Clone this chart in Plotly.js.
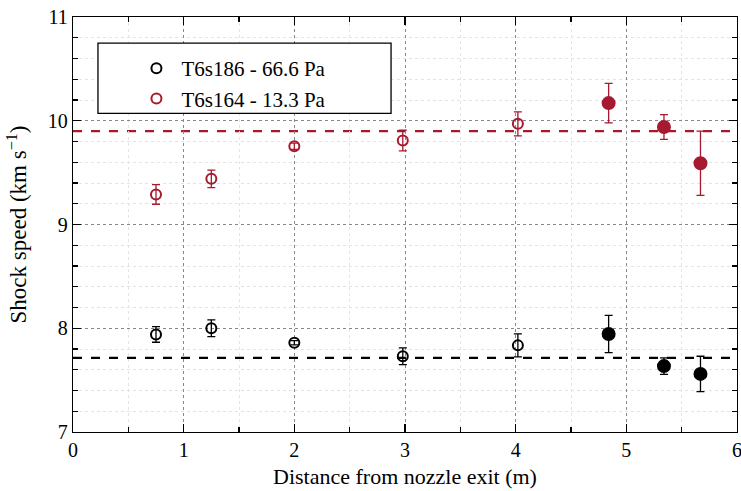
<!DOCTYPE html>
<html><head><meta charset="utf-8">
<script src="https://cdn.plot.ly/plotly-3.0.1.min.js"></script>
<style>body{margin:0}#g{width:741px;height:491px}
#g text, #g tspan{font-family:"Liberation Serif", "DejaVu Serif", serif !important;}</style>
</head><body><div id="g"></div>
<script>
// T6s164 - 13.3 Pa (red)
const redOpenX = [0.75, 1.25, 2.0, 2.98, 4.02];
const redOpenY = [9.29, 9.44, 9.755, 9.81, 9.97];
const redOpenErr = [0.095, 0.085, 0.03, 0.10, 0.115];
const redFillX = [4.84, 5.34, 5.67];
const redFillY = [10.17, 9.94, 9.59];
const redFillErr = [0.19, 0.12, 0.31];
const redMean = 9.9;
// T6s186 - 66.6 Pa (black)
const blkOpenX = [0.75, 1.25, 2.0, 2.98, 4.02];
const blkOpenY = [7.94, 8.0, 7.86, 7.73, 7.835];
const blkOpenErr = [0.075, 0.08, 0.02, 0.08, 0.11];
const blkFillX = [4.84, 5.34, 5.67];
const blkFillY = [7.945, 7.635, 7.56];
const blkFillErr = [0.18, 0.08, 0.17];
const blkMean = 7.715;
const edgeTick = 6;

const F = 'Liberation Serif';
const RED = '#a6192e';
function tr(x, y, e, color, sym, name, show) {
  return {x: x, y: y, type: 'scatter', mode: 'markers', name: name, showlegend: show,
    marker: {symbol: sym, size: sym === 'circle' ? 12 : 10, color: color, line: {color: color, width: 2}},
    error_y: {type: 'data', array: e, visible: true, color: color, thickness: 1.3, width: 4}};
}
const data = [
  tr(blkOpenX, blkOpenY, blkOpenErr, 'black', 'circle-open', 'T6s186 - 66.6 Pa', true),
  tr(redOpenX, redOpenY, redOpenErr, RED, 'circle-open', 'T6s164 - 13.3 Pa', true),
  tr(blkFillX, blkFillY, blkFillErr, 'black', 'circle', 'T6s186 filled', false),
  tr(redFillX, redFillY, redFillErr, RED, 'circle', 'T6s164 filled', false)
];
function ax(extra) {
  return Object.assign({
    showline: true, linecolor: 'black', linewidth: 1.2, mirror: 'allticks',
    ticks: 'inside', ticklen: 8, tickcolor: 'black', tickwidth: 1.2,
    showgrid: true, gridcolor: '#888', griddash: 'dot', gridwidth: 1,
    zeroline: false,
    tickfont: {family: F, size: 20, color: 'black'}
  }, extra);
}
const layout = {
  width: 741, height: 491,
  margin: {l: 73, r: 4, t: 17, b: 59},
  paper_bgcolor: 'white', plot_bgcolor: 'white',
  font: {family: F, size: 20, color: 'black'},
  xaxis: ax({
    range: [0, 6], dtick: 1, tick0: 0,
    minor: {dtick: 0.5, ticks: 'inside', ticklen: 5, tickcolor: 'black', showgrid: true, gridcolor: '#e4e4e4', gridwidth: 1},
    title: {text: 'Distance from nozzle exit (m)', font: {family: F, size: 22, color: 'black'}, standoff: 8}
  }),
  yaxis: ax({
    range: [7, 11], dtick: 1, tick0: 7,
    minor: {dtick: 0.2, ticks: 'inside', ticklen: 5, tickcolor: 'black', showgrid: true, gridcolor: '#e4e4e4', gridwidth: 1},
    title: {text: 'Shock speed (km s<sup>−1</sup>)', font: {family: F, size: 23, color: 'black'}, standoff: 14}
  }),
  shapes: [
    {type: 'line', xref: 'paper', x0: 0, x1: 1, yref: 'y', y0: redMean, y1: redMean, line: {color: RED, width: 2.2, dash: 'dash'}, layer: 'below'},
    {type: 'line', xref: 'paper', x0: 0, x1: 1, yref: 'y', y0: blkMean, y1: blkMean, line: {color: 'black', width: 2.2, dash: 'dash'}, layer: 'below'},
    {type: 'rect', xref: 'paper', yref: 'paper', x0: 0.0376, x1: 0.479, y0: 0.768, y1: 0.937, line: {color: 'black', width: 1.3}, fillcolor: 'white', layer: 'above'}
  ],
  annotations: [
    {x: edgeTick, xref: 'x', y: 0, yref: 'paper', yanchor: 'top', yshift: -5, showarrow: false, text: String(edgeTick), font: {family: F, size: 20, color: 'black'}}
  ],
  legend: {x: 0.088, y: 0.925, xanchor: 'left', yanchor: 'top', bgcolor: 'rgba(0,0,0,0)', borderwidth: 0,
    itemwidth: 40, font: {family: F, size: 21, color: 'black'}, tracegroupgap: 0}
};
Plotly.newPlot('g', data, layout, {displayModeBar: false, staticPlot: true});
</script></body></html>
